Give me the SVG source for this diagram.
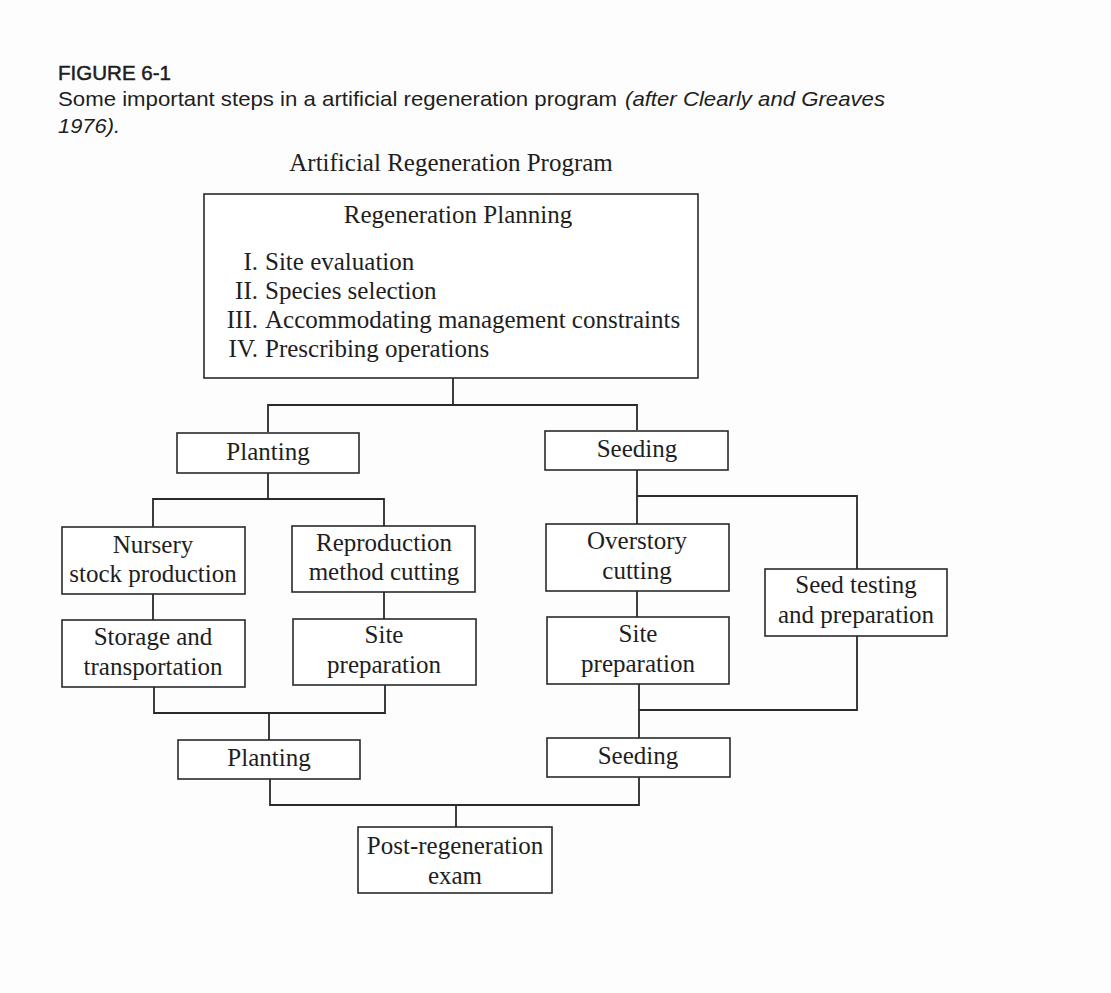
<svg xmlns="http://www.w3.org/2000/svg" width="1111" height="993" viewBox="0 0 1111 993">
<style>
.bx{fill:#fff;stroke:#2a2a2a;stroke-width:1.6}
.cn{fill:none;stroke:#2a2a2a;stroke-width:1.8}
.t{font-family:"Liberation Serif","Times New Roman",serif;font-size:25px;fill:#1e1e1e;text-anchor:middle}
.l{font-family:"Liberation Serif","Times New Roman",serif;font-size:25px;fill:#1e1e1e}
.s{font-family:"Liberation Sans",Arial,sans-serif;fill:#1e1e1e}
</style>
<rect width="1111" height="993" fill="#fdfdfd"/>
<g id="caption">
<text class="s" x="58" y="80" font-size="20" stroke="#1e1e1e" stroke-width="0.5" textLength="113" lengthAdjust="spacingAndGlyphs">FIGURE 6-1</text>
<text class="s" x="58" y="106" font-size="21" textLength="559" lengthAdjust="spacingAndGlyphs">Some important steps in a artificial regeneration program</text>
<text class="s" x="625" y="106" font-size="21" font-style="italic" textLength="260" lengthAdjust="spacingAndGlyphs">(after Clearly and Greaves</text>
<text class="s" x="58" y="133" font-size="21" font-style="italic" textLength="62" lengthAdjust="spacingAndGlyphs">1976).</text>
</g>
<g id="title"><text class="t" x="451" y="171">Artificial Regeneration Program</text></g>
<g id="connectors">
<path class="cn" d="M453,378V405M268,432V405H637V430"/>
<path class="cn" d="M268,473V499M153,527V499H384V526"/>
<path class="cn" d="M153,594V620M384,592V619"/>
<path class="cn" d="M154,687V713H385V685M269,713V740"/>
<path class="cn" d="M637,470V524M637,496H857V569"/>
<path class="cn" d="M637,591V617"/>
<path class="cn" d="M639,684V738M639,710H857V636"/>
<path class="cn" d="M270,779V805H639V777M456,805V827"/>
</g>
<g id="planning">
<rect class="bx" x="204" y="194" width="494" height="184"/>
<text class="t" x="458" y="223">Regeneration Planning</text>
<text class="l" x="258" y="270" text-anchor="end">I.</text>
<text class="l" x="265" y="270">Site evaluation</text>
<text class="l" x="258" y="299" text-anchor="end">II.</text>
<text class="l" x="265" y="299">Species selection</text>
<text class="l" x="258" y="328" text-anchor="end">III.</text>
<text class="l" x="265" y="328">Accommodating management constraints</text>
<text class="l" x="258" y="357" text-anchor="end">IV.</text>
<text class="l" x="265" y="357">Prescribing operations</text>
</g>
<g id="planting1"><rect class="bx" x="177" y="433" width="182" height="40"/><text class="t" x="268" y="460">Planting</text></g>
<g id="seeding1"><rect class="bx" x="545" y="431" width="183" height="39"/><text class="t" x="637" y="457">Seeding</text></g>
<g id="nursery"><rect class="bx" x="62" y="527" width="183" height="67"/><text class="t" x="153" y="553">Nursery</text><text class="t" x="153" y="582">stock production</text></g>
<g id="reproduction"><rect class="bx" x="292" y="526" width="183" height="66"/><text class="t" x="384" y="551">Reproduction</text><text class="t" x="384" y="580">method cutting</text></g>
<g id="storage"><rect class="bx" x="62" y="620" width="183" height="67"/><text class="t" x="153" y="645">Storage and</text><text class="t" x="153" y="675">transportation</text></g>
<g id="siteprep1"><rect class="bx" x="293" y="619" width="183" height="66"/><text class="t" x="384" y="643">Site</text><text class="t" x="384" y="673">preparation</text></g>
<g id="overstory"><rect class="bx" x="546" y="524" width="183" height="67"/><text class="t" x="637" y="549">Overstory</text><text class="t" x="637" y="579">cutting</text></g>
<g id="siteprep2"><rect class="bx" x="547" y="617" width="182" height="67"/><text class="t" x="638" y="642">Site</text><text class="t" x="638" y="672">preparation</text></g>
<g id="seedtesting"><rect class="bx" x="765" y="569" width="182" height="67"/><text class="t" x="856" y="593">Seed testing</text><text class="t" x="856" y="623">and preparation</text></g>
<g id="planting2"><rect class="bx" x="178" y="740" width="182" height="39"/><text class="t" x="269" y="766">Planting</text></g>
<g id="seeding2"><rect class="bx" x="547" y="738" width="183" height="39"/><text class="t" x="638" y="764">Seeding</text></g>
<g id="postregen"><rect class="bx" x="358" y="827" width="194" height="66"/><text class="t" x="455" y="854">Post-regeneration</text><text class="t" x="455" y="884">exam</text></g>
</svg>
